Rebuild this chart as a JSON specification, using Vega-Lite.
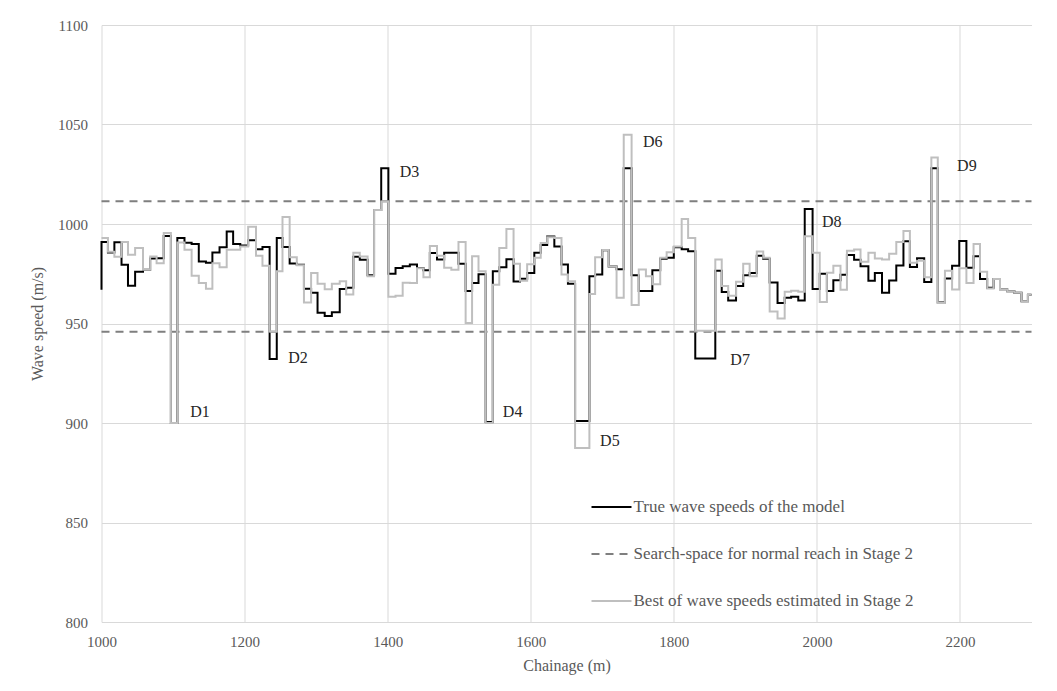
{
  "$schema": "https://vega.github.io/schema/vega-lite/v6.json",
  "width": 930,
  "height": 597,
  "autosize": {"type": "none"},
  "padding": {"left": 101.5, "top": 25, "right": 25.5, "bottom": 69},
  "background": "white",
  "config": {
    "view": {"stroke": null},
    "font": "Liberation Serif",
    "axis": {
      "labelFont": "Liberation Serif",
      "titleFont": "Liberation Serif",
      "labelColor": "#595959",
      "titleColor": "#595959",
      "labelFontSize": 15,
      "titleFontSize": 16,
      "titleFontWeight": "normal",
      "gridColor": "#d9d9d9",
      "gridWidth": 1,
      "ticks": false
    },
    "legend": {
      "labelFont": "Liberation Serif",
      "labelFontSize": 17,
      "labelColor": "#595959"
    }
  },
  "datasets": {
    "truth": [
      {"ch":1000,"v":967},{"ch":1000,"v":991},{"ch":1009,"v":985.7},{"ch":1018,"v":990.8},{"ch":1028,"v":979.5},{"ch":1037,"v":969},{"ch":1047,"v":976},{"ch":1058,"v":977},{"ch":1068,"v":982.7},{"ch":1077,"v":982.8},{"ch":1087,"v":994},{"ch":1097,"v":900},{"ch":1106,"v":993},{"ch":1116,"v":990.6},{"ch":1126,"v":990},{"ch":1136,"v":981.2},{"ch":1146,"v":980.5},{"ch":1155,"v":985.7},{"ch":1165,"v":988.3},{"ch":1175,"v":996.2},{"ch":1184,"v":990},{"ch":1194,"v":989.2},{"ch":1205,"v":991.8},{"ch":1216,"v":987.3},{"ch":1225,"v":988.4},{"ch":1235,"v":932.2},{"ch":1245,"v":993},{"ch":1253,"v":988.5},{"ch":1263,"v":980.2},{"ch":1273,"v":979.5},{"ch":1283,"v":967.4},{"ch":1293,"v":965.4},{"ch":1302,"v":955.4},{"ch":1312,"v":953.8},{"ch":1322,"v":955.6},{"ch":1333,"v":967.3},{"ch":1342,"v":968},{"ch":1352,"v":983.5},{"ch":1361,"v":982},{"ch":1372,"v":974.2},{"ch":1381,"v":1007},{"ch":1391,"v":1028},{"ch":1401,"v":975},{"ch":1411,"v":977.9},{"ch":1421,"v":978.8},{"ch":1431,"v":979.6},{"ch":1441,"v":977.9},{"ch":1450,"v":976.7},{"ch":1459,"v":985.4},{"ch":1469,"v":982.1},{"ch":1479,"v":985.6},{"ch":1489,"v":985.6},{"ch":1499,"v":980},{"ch":1509,"v":966.3},{"ch":1518,"v":970.4},{"ch":1527,"v":974.8},{"ch":1537,"v":900.5},{"ch":1547,"v":976.3},{"ch":1556,"v":978.3},{"ch":1566,"v":982.3},{"ch":1576,"v":971.1},{"ch":1585,"v":972.5},{"ch":1595,"v":975.4},{"ch":1605,"v":985.6},{"ch":1614,"v":989.5},{"ch":1623,"v":993.7},{"ch":1633,"v":988.7},{"ch":1643,"v":979.6},{"ch":1652,"v":970},{"ch":1662,"v":901},{"ch":1682,"v":973.8},{"ch":1690,"v":974.6},{"ch":1700,"v":986.8},{"ch":1709,"v":978.6},{"ch":1720,"v":977.2},{"ch":1730,"v":1028},{"ch":1741,"v":974.2},{"ch":1751,"v":966.3},{"ch":1770,"v":976.8},{"ch":1781,"v":982.5},{"ch":1790,"v":983},{"ch":1800,"v":988.3},{"ch":1811,"v":987.3},{"ch":1820,"v":986.3},{"ch":1830,"v":932.4},{"ch":1858,"v":976.5},{"ch":1867,"v":965.8},{"ch":1876,"v":961.5},{"ch":1887,"v":968.8},{"ch":1897,"v":974.3},{"ch":1906,"v":975.4},{"ch":1916,"v":984},{"ch":1925,"v":982.6},{"ch":1934,"v":970.6},{"ch":1945,"v":960.3},{"ch":1955,"v":963},{"ch":1964,"v":963.5},{"ch":1974,"v":961.5},{"ch":1983,"v":1007.5},{"ch":1994,"v":967.3},{"ch":2004,"v":975},{"ch":2014,"v":966.3},{"ch":2023,"v":971.7},{"ch":2033,"v":974.5},{"ch":2042,"v":984.4},{"ch":2052,"v":982},{"ch":2061,"v":978.8},{"ch":2072,"v":971.5},{"ch":2081,"v":975.4},{"ch":2091,"v":965.4},{"ch":2101,"v":971.6},{"ch":2111,"v":979.2},{"ch":2121,"v":991.3},{"ch":2130,"v":978.4},{"ch":2140,"v":982.8},{"ch":2150,"v":970.8},{"ch":2160,"v":1028},{"ch":2169,"v":960.6},{"ch":2179,"v":972.6},{"ch":2189,"v":979},{"ch":2199,"v":991.5},{"ch":2209,"v":978},{"ch":2219,"v":983.8},{"ch":2228,"v":972.3},{"ch":2238,"v":968},{"ch":2247,"v":972.4},{"ch":2256,"v":967.2},{"ch":2266,"v":966.2},{"ch":2276,"v":965.5},{"ch":2286,"v":961.2},{"ch":2295,"v":964.5},{"ch":2300,"v":964.5}
    ],
    "best": [
      {"ch":1000,"v":993},{"ch":1009,"v":986},{"ch":1018,"v":983.5},{"ch":1028,"v":991},{"ch":1037,"v":984.5},{"ch":1047,"v":988},{"ch":1058,"v":977},{"ch":1068,"v":983.7},{"ch":1077,"v":980.3},{"ch":1087,"v":995.5},{"ch":1097,"v":900},{"ch":1106,"v":990.7},{"ch":1116,"v":987},{"ch":1126,"v":974},{"ch":1136,"v":970.3},{"ch":1146,"v":967.5},{"ch":1155,"v":980.3},{"ch":1165,"v":978.3},{"ch":1175,"v":987},{"ch":1184,"v":987},{"ch":1194,"v":988.7},{"ch":1205,"v":998.6},{"ch":1216,"v":984},{"ch":1225,"v":979},{"ch":1235,"v":946},{"ch":1245,"v":976.2},{"ch":1253,"v":1003.5},{"ch":1263,"v":983.3},{"ch":1273,"v":979.3},{"ch":1283,"v":960.5},{"ch":1293,"v":975.4},{"ch":1302,"v":970},{"ch":1312,"v":967.2},{"ch":1322,"v":970},{"ch":1333,"v":971.2},{"ch":1342,"v":964.6},{"ch":1352,"v":985.6},{"ch":1361,"v":983.7},{"ch":1372,"v":973.7},{"ch":1381,"v":1007},{"ch":1391,"v":1011.3},{"ch":1401,"v":963.4},{"ch":1411,"v":963.9},{"ch":1421,"v":970.5},{"ch":1431,"v":970.4},{"ch":1441,"v":977.8},{"ch":1450,"v":973.3},{"ch":1459,"v":989},{"ch":1469,"v":984},{"ch":1479,"v":978},{"ch":1489,"v":977},{"ch":1499,"v":991},{"ch":1509,"v":950.2},{"ch":1518,"v":983.8},{"ch":1527,"v":976.3},{"ch":1537,"v":900},{"ch":1547,"v":969.5},{"ch":1556,"v":987.9},{"ch":1566,"v":997.5},{"ch":1576,"v":980},{"ch":1585,"v":971.5},{"ch":1595,"v":979.8},{"ch":1605,"v":983},{"ch":1614,"v":990.5},{"ch":1623,"v":993.3},{"ch":1633,"v":993},{"ch":1643,"v":974.6},{"ch":1652,"v":971.2},{"ch":1662,"v":887.5},{"ch":1682,"v":964.8},{"ch":1690,"v":983.3},{"ch":1700,"v":986.9},{"ch":1709,"v":978.7},{"ch":1720,"v":962.9},{"ch":1730,"v":1044.8},{"ch":1741,"v":959.3},{"ch":1751,"v":977.1},{"ch":1761,"v":973.8},{"ch":1770,"v":969.7},{"ch":1781,"v":983},{"ch":1790,"v":985.8},{"ch":1800,"v":988.7},{"ch":1811,"v":1002.5},{"ch":1820,"v":993},{"ch":1830,"v":946.3},{"ch":1858,"v":982.2},{"ch":1867,"v":968.8},{"ch":1876,"v":964},{"ch":1887,"v":971},{"ch":1897,"v":980},{"ch":1906,"v":973.8},{"ch":1916,"v":986.2},{"ch":1925,"v":983},{"ch":1934,"v":956},{"ch":1945,"v":952.5},{"ch":1955,"v":966},{"ch":1964,"v":966.5},{"ch":1974,"v":966},{"ch":1983,"v":993.8},{"ch":1994,"v":985.5},{"ch":2004,"v":960.8},{"ch":2014,"v":975.5},{"ch":2023,"v":979},{"ch":2033,"v":967},{"ch":2042,"v":986.5},{"ch":2052,"v":987.2},{"ch":2061,"v":981},{"ch":2072,"v":985.6},{"ch":2081,"v":982.7},{"ch":2091,"v":982.2},{"ch":2101,"v":985},{"ch":2111,"v":991},{"ch":2121,"v":996.5},{"ch":2130,"v":980.5},{"ch":2140,"v":981.5},{"ch":2150,"v":973.2},{"ch":2160,"v":1033.4},{"ch":2169,"v":960.3},{"ch":2179,"v":976.5},{"ch":2189,"v":967.1},{"ch":2199,"v":977.8},{"ch":2209,"v":970.4},{"ch":2219,"v":990},{"ch":2228,"v":976},{"ch":2238,"v":967.6},{"ch":2247,"v":972.4},{"ch":2256,"v":967.2},{"ch":2266,"v":966.2},{"ch":2276,"v":965.5},{"ch":2286,"v":961.2},{"ch":2295,"v":964.5},{"ch":2300,"v":964.5}
    ],
    "bounds": [
      {"ch":1000,"v":1011.4,"g":"upper"},{"ch":2300,"v":1011.4,"g":"upper"},
      {"ch":1000,"v":945.8,"g":"lower"},{"ch":2300,"v":945.8,"g":"lower"}
    ],
    "labels": [
      {"t":"D1","ch":1124,"v":905.7},
      {"t":"D2","ch":1261,"v":932.8},
      {"t":"D3","ch":1417,"v":1026},
      {"t":"D4","ch":1561,"v":905.4},
      {"t":"D5","ch":1697,"v":890.9},
      {"t":"D6","ch":1757,"v":1041},
      {"t":"D7","ch":1879,"v":931.8},
      {"t":"D8","ch":2007,"v":1001},
      {"t":"D9","ch":2196,"v":1029.3}
    ]
  },
  "encoding": {
    "x": {
      "field": "ch", "type": "quantitative",
      "scale": {"domain": [1000, 2300], "nice": false, "zero": false},
      "axis": {
        "values": [1000, 1200, 1400, 1600, 1800, 2000, 2200],
        "format": "d",
        "title": "Chainage (m)",
        "labelFont": "Liberation Serif", "titleFont": "Liberation Serif",
        "labelFontSize": 15, "titleFontSize": 16,
        "domain": true, "domainColor": "#d9d9d9",
        "labelPadding": 12, "titlePadding": 8, "labelFlush": false
      }
    },
    "y": {
      "field": "v", "type": "quantitative",
      "scale": {"domain": [800, 1100], "nice": false, "zero": false},
      "axis": {
        "values": [800, 850, 900, 950, 1000, 1050, 1100],
        "format": "d",
        "title": "Wave speed (m/s)",
        "labelFont": "Liberation Serif", "titleFont": "Liberation Serif",
        "labelFontSize": 15, "titleFontSize": 16,
        "domain": false,
        "labelPadding": 14, "titlePadding": 12
      }
    }
  },
  "layer": [
    {
      "data": {"name": "truth"},
      "mark": {"type": "line", "interpolate": "step-after", "strokeWidth": 2},
      "encoding": {
        "order": {"value": null},
        "color": {
          "datum": "True wave speeds of the model",
          "scale": {
            "domain": ["True wave speeds of the model", "Search-space for normal reach in Stage 2", "Best of wave speeds estimated in Stage 2"],
            "range": ["#000000", "#7f7f7f", "#bfbfbf"]
          },
          "legend": {
            "title": null, "orient": "none", "legendX": 489, "legendY": 461,
            "symbolType": "stroke", "symbolSize": 1600, "symbolStrokeWidth": 2,
            "rowPadding": 18, "labelOffset": 1, "labelLimit": 500,
            "labelFont": "Liberation Serif", "labelFontSize": 17, "labelColor": "#595959"
          }
        },
        "strokeDash": {
          "datum": "True wave speeds of the model",
          "scale": {
            "domain": ["True wave speeds of the model", "Search-space for normal reach in Stage 2", "Best of wave speeds estimated in Stage 2"],
            "range": [[1, 0], [8, 6], [1, 0]]
          },
          "legend": null
        }
      }
    },
    {
      "data": {"name": "bounds"},
      "mark": {"type": "line", "strokeWidth": 2},
      "encoding": {
        "detail": {"field": "g"},
        "color": {"datum": "Search-space for normal reach in Stage 2"},
        "strokeDash": {"datum": "Search-space for normal reach in Stage 2"}
      }
    },
    {
      "data": {"name": "best"},
      "mark": {"type": "line", "interpolate": "step-after", "strokeWidth": 2},
      "encoding": {
        "order": {"value": null},
        "color": {"datum": "Best of wave speeds estimated in Stage 2"},
        "strokeDash": {"datum": "Best of wave speeds estimated in Stage 2"}
      }
    },
    {
      "data": {"name": "labels"},
      "mark": {"type": "text", "align": "left", "baseline": "middle", "font": "Liberation Serif", "fontSize": 16, "color": "#262626"},
      "encoding": {
        "text": {"field": "t"}
      }
    }
  ]
}
